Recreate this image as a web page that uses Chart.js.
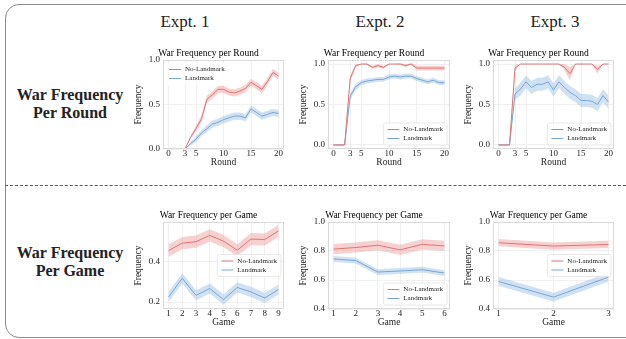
<!DOCTYPE html>
<html>
<head>
<meta charset="utf-8">
<script src="https://cdn.jsdelivr.net/npm/chart.js@4.4.0/dist/chart.umd.min.js"></script>
<style>
  body { margin: 0; width: 626px; height: 339px; background: #fff; position: relative; overflow: hidden; font-family: "Liberation Serif", serif; }
  .frame { position: absolute; left: 5px; top: 4px; width: 660px; height: 332px; border: 1.5px solid #8a8a8a; border-radius: 14px; }
  .dash { position: absolute; left: 5px; top: 185px; width: 621px; border-top: 1px dashed #555; }
  .head { position: absolute; top: 12px; font-size: 17px; color: #222; transform: translateX(-50%); white-space: nowrap; }
  .row { position: absolute; left: 70px; transform: translate(-50%, -50%); text-align: center; font-weight: bold; font-size: 16px; line-height: 18px; color: #222; white-space: nowrap; }
  canvas { position: absolute; }
</style>
</head>
<body>
<div class="frame"></div>
<div class="dash"></div>
<div class="head" style="left:185px">Expt. 1</div>
<div class="head" style="left:380px">Expt. 2</div>
<div class="head" style="left:555px">Expt. 3</div>
<div class="row" style="top:104px">War Frequency<br>Per Round</div>
<div class="row" style="top:262px">War Frequency<br>Per Game</div>

<canvas id="c1" width="159" height="125" style="left:133px;top:46px"></canvas>
<canvas id="c2" width="160" height="125" style="left:298px;top:46px"></canvas>
<canvas id="c3" width="159" height="125" style="left:463px;top:46px"></canvas>
<canvas id="c4" width="159" height="123" style="left:133px;top:208px"></canvas>
<canvas id="c5" width="160" height="123" style="left:298px;top:208px"></canvas>
<canvas id="c6" width="159" height="123" style="left:463px;top:208px"></canvas>

<script>
// x values and tick labels
const rounds = [0, 1, 2, 3, 4, 5, 6, 7, 8, 9, 10, 11, 12, 13, 14, 15, 16, 17, 18, 19, 20];
const roundTicks = [0, 3, 5, 10, 15, 20];
const games9 = [1, 2, 3, 4, 5, 6, 7, 8, 9];
const games6 = [1, 2, 3, 4, 5, 6];
const games3 = [1, 2, 3];
const seriesNames = ['No-Landmark', 'Landmark'];

// Expt. 1 per round
const e1NoRound = [0, 0, 0, 0, 0.13, 0.23, 0.34, 0.56, 0.61, 0.67, 0.67, 0.64, 0.63, 0.65, 0.68, 0.75, 0.71, 0.67, 0.76, 0.86, 0.82];
const e1NoRoundErr = [0, 0, 0, 0, 0.02, 0.03, 0.04, 0.04, 0.04, 0.04, 0.04, 0.04, 0.04, 0.04, 0.04, 0.04, 0.04, 0.04, 0.04, 0.04, 0.04];
const e1LmRound = [0, 0, 0, 0, 0.06, 0.11, 0.18, 0.23, 0.28, 0.30, 0.33, 0.35, 0.37, 0.37, 0.35, 0.45, 0.41, 0.37, 0.39, 0.41, 0.40];
const e1LmRoundErr = [0, 0, 0, 0, 0.02, 0.03, 0.03, 0.04, 0.04, 0.04, 0.04, 0.04, 0.04, 0.04, 0.04, 0.04, 0.04, 0.04, 0.04, 0.04, 0.04];

// Expt. 2 per round
const e2NoRound = [0, 0, 0, 0.82, 0.98, 1, 1, 0.96, 0.98, 0.96, 1, 1, 1, 0.98, 1, 0.95, 0.95, 0.95, 0.95, 0.95, 0.95];
const e2NoRoundErr = [0, 0, 0, 0.04, 0.02, 0, 0.01, 0.02, 0.02, 0.02, 0, 0, 0.01, 0.02, 0.01, 0.03, 0.03, 0.03, 0.03, 0.03, 0.03];
const e2LmRound = [0, 0, 0, 0.60, 0.72, 0.77, 0.79, 0.80, 0.81, 0.81, 0.84, 0.85, 0.84, 0.85, 0.85, 0.82, 0.80, 0.78, 0.80, 0.77, 0.77];
const e2LmRoundErr = [0, 0, 0, 0.04, 0.04, 0.03, 0.03, 0.03, 0.03, 0.03, 0.03, 0.03, 0.03, 0.03, 0.03, 0.03, 0.03, 0.03, 0.03, 0.03, 0.03];

// Expt. 3 per round
const e3NoRound = [0, 0, 0, 0.95, 1, 1, 1, 1, 1, 1, 1, 1, 0.96, 0.88, 1, 1, 1, 1, 0.93, 1, 1];
const e3NoRoundErr = [0, 0, 0, 0.04, 0, 0, 0, 0, 0, 0, 0, 0, 0.04, 0.08, 0, 0, 0, 0, 0.05, 0, 0];
const e3LmRound = [0, 0, 0, 0.63, 0.69, 0.78, 0.71, 0.75, 0.75, 0.78, 0.68, 0.78, 0.71, 0.65, 0.61, 0.55, 0.55, 0.54, 0.50, 0.61, 0.53];
const e3LmRoundErr = [0, 0, 0, 0.07, 0.08, 0.08, 0.08, 0.08, 0.08, 0.08, 0.08, 0.08, 0.08, 0.08, 0.08, 0.08, 0.08, 0.08, 0.08, 0.08, 0.08];

// per game
const e1NoGame = [0.453, 0.49, 0.497, 0.528, 0.50, 0.455, 0.51, 0.508, 0.55];
const e1NoGameErr = [0.03, 0.03, 0.03, 0.03, 0.03, 0.03, 0.03, 0.03, 0.03];
const e1LmGame = [0.225, 0.317, 0.233, 0.267, 0.212, 0.272, 0.25, 0.22, 0.262];
const e1LmGameErr = [0.025, 0.025, 0.025, 0.025, 0.025, 0.025, 0.025, 0.025, 0.025];
const e2NoGame = [0.813, 0.824, 0.84, 0.808, 0.846, 0.835];
const e2NoGameErr = [0.035, 0.035, 0.035, 0.035, 0.035, 0.035];
const e2LmGame = [0.745, 0.734, 0.655, 0.662, 0.671, 0.648];
const e2LmGameErr = [0.02, 0.02, 0.02, 0.02, 0.02, 0.02];
const e3NoGame = [0.857, 0.834, 0.845];
const e3NoGameErr = [0.025, 0.025, 0.025];
const e3LmGame = [0.59, 0.482, 0.62];
const e3LmGameErr = [0.03, 0.03, 0.03];

const FONT = '"Liberation Serif", serif';
const RED = '#e07373';
const RED_BAND = 'rgba(238, 150, 150, 0.45)';
const BLUE = '#78a6d4';
const BLUE_BAND = 'rgba(160, 196, 230, 0.5)';

// draws the box round the plot area
const boxPlugin = {
  id: 'plotBox',
  afterDatasetsDraw(chart) {
    const a = chart.chartArea;
    const ctx = chart.ctx;
    ctx.save();
    ctx.strokeStyle = '#d9d9d9';
    ctx.lineWidth = 1;
    ctx.strokeRect(a.left + 0.5, a.top + 0.5, a.right - a.left - 1, a.bottom - a.top - 1);
    ctx.restore();
  }
};

// legend drawn inside the plot, like matplotlib
const innerLegend = {
  id: 'innerLegend',
  afterDraw(chart, args, opts) {
    if (!opts.where) return;
    const a = chart.chartArea;
    const ctx = chart.ctx;
    ctx.save();
    ctx.font = '7px ' + FONT;
    const items = [{ label: seriesNames[0], color: RED }, { label: seriesNames[1], color: BLUE }];
    const tw = Math.max(...items.map(it => ctx.measureText(it.label).width));
    const rowH = 9;
    const w = 20 + tw + 4;
    const h = items.length * rowH + 4;
    let x, y;
    if (opts.where === 'ul') { x = a.left + 2; y = a.top + 3; }
    else if (opts.where === 'lr') { x = a.right - 3 - w; y = a.bottom - 4 - h; }
    else { x = a.right - 3 - w; y = (a.top + a.bottom) / 2 - h / 2; }
    ctx.fillStyle = 'rgba(255,255,255,0.85)';
    ctx.strokeStyle = opts.frame ? '#e2e2e2' : 'rgba(0,0,0,0)';
    ctx.lineWidth = 0.8;
    ctx.beginPath();
    ctx.roundRect(x, y, w, h, 2);
    ctx.fill();
    ctx.stroke();
    items.forEach((it, i) => {
      const cy = y + 2 + rowH * i + rowH / 2;
      ctx.strokeStyle = it.color;
      ctx.lineWidth = 1;
      ctx.beginPath();
      ctx.moveTo(x + 4, cy);
      ctx.lineTo(x + 16, cy);
      ctx.stroke();
      ctx.fillStyle = '#222';
      ctx.textBaseline = 'middle';
      ctx.fillText(it.label, x + 20, cy);
    });
    ctx.restore();
  }
};

function bandSets(xs, mean, err, line, band) {
  const lo = xs.map((x, i) => ({ x: x, y: mean[i] - err[i] }));
  const hi = xs.map((x, i) => ({ x: x, y: mean[i] + err[i] }));
  const mid = xs.map((x, i) => ({ x: x, y: mean[i] }));
  return [
    { data: mid, borderColor: line, borderWidth: 1, pointRadius: 0, fill: false, order: 0, tension: 0 },
    { data: lo, borderWidth: 0, borderColor: 'rgba(0,0,0,0)', pointRadius: 0, fill: false, order: 1 },
    { data: hi, borderWidth: 0, borderColor: 'rgba(0,0,0,0)', pointRadius: 0, fill: '-1', backgroundColor: band, order: 1 }
  ];
}

function makeChart(id, cfg) {
  const ds = [
    ...bandSets(cfg.xs, cfg.no, cfg.noErr, RED, RED_BAND),
    ...bandSets(cfg.xs, cfg.lm, cfg.lmErr, BLUE, BLUE_BAND)
  ];
  return new Chart(document.getElementById(id), {
    type: 'line',
    data: { datasets: ds },
    options: {
      responsive: false,
      animation: false,
      layout: { padding: { left: 0, right: 8, top: 0, bottom: 0 } },
      plugins: {
        legend: { display: false },
        tooltip: { enabled: false },
        title: {
          display: true,
          text: cfg.title,
          color: '#000',
          font: { family: FONT, size: 9.5, weight: 'normal', lineHeight: 1 },
          padding: { top: 3, bottom: 1.5 }
        },
        innerLegend: { where: cfg.legend, frame: cfg.frame }
      },
      scales: {
        x: {
          type: 'linear',
          min: cfg.xMin,
          max: cfg.xMax,
          afterBuildTicks: s => { s.ticks = cfg.xTicks.map(v => ({ value: v })); },
          afterFit: s => { s.height = 22; },
          grid: { color: '#ececec', lineWidth: 0.8, drawTicks: false },
          border: { display: false },
          ticks: { padding: 0, color: '#222', font: { family: FONT, size: 9, lineHeight: 1 }, maxRotation: 0, callback: v => String(v) },
          title: { display: true, text: cfg.xTitle, color: '#222', font: { family: FONT, size: 9.5, lineHeight: 1 }, padding: { top: 0, bottom: 4 } }
        },
        y: {
          min: cfg.yMin,
          max: cfg.yMax,
          afterBuildTicks: s => { s.ticks = cfg.yTicks.map(v => ({ value: v })); },
          afterFit: s => { s.width = 30; },
          grid: { color: '#ececec', lineWidth: 0.8, drawTicks: false },
          border: { display: false },
          ticks: { padding: 3, color: '#222', font: { family: FONT, size: 9 }, callback: v => v.toFixed(1) },
          title: { display: true, text: 'Frequency', color: '#222', font: { family: FONT, size: 9.5 }, padding: { top: 0, bottom: 1 } }
        }
      }
    },
    plugins: [boxPlugin, innerLegend]
  });
}

const roundTitle = 'War Frequency per Round';
const gameTitle = 'War Frequency per Game';

makeChart('c1', { title: roundTitle, xTitle: 'Round', xs: rounds, xTicks: roundTicks, xMin: -1, xMax: 21,
  yMin: 0, yMax: 1, yTicks: [0, 0.5, 1], legend: 'ul', frame: false,
  no: e1NoRound, noErr: e1NoRoundErr, lm: e1LmRound, lmErr: e1LmRoundErr });
makeChart('c2', { title: roundTitle, xTitle: 'Round', xs: rounds, xTicks: roundTicks, xMin: -1, xMax: 21,
  yMin: -0.05, yMax: 1.05, yTicks: [0, 0.5, 1], legend: 'lr', frame: true,
  no: e2NoRound, noErr: e2NoRoundErr, lm: e2LmRound, lmErr: e2LmRoundErr });
makeChart('c3', { title: roundTitle, xTitle: 'Round', xs: rounds, xTicks: roundTicks, xMin: -1, xMax: 21,
  yMin: -0.05, yMax: 1.05, yTicks: [0, 0.5, 1], legend: 'lr', frame: true,
  no: e3NoRound, noErr: e3NoRoundErr, lm: e3LmRound, lmErr: e3LmRoundErr });
makeChart('c4', { title: gameTitle, xTitle: 'Game', xs: games9, xTicks: games9, xMin: 0.6, xMax: 9.4,
  yMin: 0.166, yMax: 0.594, yTicks: [0.2, 0.4], legend: 'cr', frame: true,
  no: e1NoGame, noErr: e1NoGameErr, lm: e1LmGame, lmErr: e1LmGameErr });
makeChart('c5', { title: gameTitle, xTitle: 'Game', xs: games6, xTicks: games6, xMin: 0.75, xMax: 6.25,
  yMin: 0.4, yMax: 1.0, yTicks: [0.4, 0.6, 0.8, 1.0], legend: 'lr', frame: true,
  no: e2NoGame, noErr: e2NoGameErr, lm: e2LmGame, lmErr: e2LmGameErr });
makeChart('c6', { title: gameTitle, xTitle: 'Game', xs: games3, xTicks: games3, xMin: 0.9, xMax: 3.1,
  yMin: 0.4, yMax: 1.0, yTicks: [0.4, 0.6, 0.8, 1.0], legend: 'cr', frame: true,
  no: e3NoGame, noErr: e3NoGameErr, lm: e3LmGame, lmErr: e3LmGameErr });
</script>
</body>
</html>
